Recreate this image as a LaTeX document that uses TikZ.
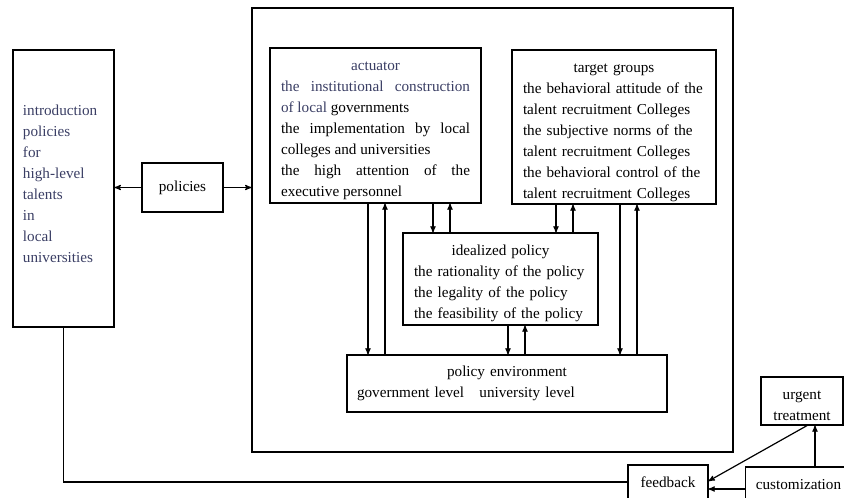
\documentclass[tikz,border=0pt]{standalone}
\usepackage{fontspec}
\setmainfont{Liberation Serif}
\usepackage{xcolor}
\usetikzlibrary{arrows,positioning}
\definecolor{slate}{RGB}{58,62,100}

\begin{document}
\begin{tikzpicture}[x=1pt, y=-1pt, line width=1.2pt, >=stealth',
    font=\fontsize{15.2}{21}\selectfont,
    box/.style={draw, inner xsep=10pt, inner ysep=0pt}]
\useasboundingbox (0,0) rectangle (844,498);
\clip (0,0) rectangle (844,498);

\node[box, minimum width=101pt, minimum height=277pt, text width=81pt, align=left, text=slate] (intro) at (63.5, 188.5) {introduction\\policies\\for\\high-level\\talents\\in\\local\\universities\rule[-9pt]{0pt}{0pt}};
\node[box, minimum width=81pt, minimum height=49pt] (pol) at (182.5, 187.5) {policies};
\node[draw, minimum width=481pt, minimum height=444pt] (sys) at (492.5, 230) {};

\node[box, inner xsep=11pt, minimum width=211pt, minimum height=155pt, text width=189pt, align=justify] (act) at (375.5, 125.5) {{\centering\color{slate}\rule{0pt}{20pt}actuator\par}{\color{slate}the institutional construction\linebreak of local} governments\newline the implementation by local\linebreak colleges and universities\newline the high attention of the\linebreak executive personnel};
\node[box, inner xsep=11pt, minimum width=204pt, minimum height=154pt, text width=182pt, align=left] (tgt) at (614, 127) {{\centering\rule{0pt}{20pt}target groups\par}the behavioral attitude of the\\talent recruitment Colleges\\the subjective norms of the\\talent recruitment Colleges\\the behavioral control of the\\talent recruitment Colleges};
\node[box, inner xsep=11pt, minimum width=195pt, minimum height=92pt, text width=173pt, align=left] (ideal) at (500.5, 279) {{\centering\rule{0pt}{20pt}idealized policy\par}the rationality of the policy\\the legality of the policy\\the feasibility of the policy};
\node[box, minimum width=320pt, minimum height=57pt, text width=300pt, align=left] (env) at (507, 383.5) {{\centering policy environment\par}government level\quad university level};

\node[box, inner xsep=2pt, minimum width=82pt, minimum height=48pt, align=center] (urg) at (802, 401) {\rule{0pt}{19pt}urgent\\treatment};
\node[box, minimum width=80pt, minimum height=34pt] (fb) at (668, 482) {feedback};
\node[box, minimum width=105pt, minimum height=35pt] (cust) at (798.5, 484.5) {customization};

\draw
(pol.west) edge[->] (pol.west -| intro.east)
(pol.east) edge[->] (pol.east -| sys.west)
(433,0 |- act.south) edge[->] (433,0 |- ideal.north)
(450,0 |- ideal.north) edge[->] (450,0 |- act.south)
(556,0 |- tgt.south) edge[->] (556,0 |- ideal.north)
(573,0 |- ideal.north) edge[->] (573,0 |- tgt.south)
(368,0 |- act.south) edge[->] (368,0 |- env.north)
(385,0 |- env.north) edge[->] (385,0 |- act.south)
(620,0 |- tgt.south) edge[->] (620,0 |- env.north)
(637,0 |- env.north) edge[->] (637,0 |- tgt.south)
(508,0 |- ideal.south) edge[->] (508,0 |- env.north)
(525,0 |- env.north) edge[->] (525,0 |- ideal.south)
([xshift=5pt]urg.south) edge[->] ([yshift=1pt]fb.east)
([yshift=-4.5pt]cust.west) edge[->] ([yshift=-4.5pt]cust.west -| fb.east)
(815,0 |- cust.north) edge[->] (815,0 |- urg.south);
\draw (intro.south) |- (fb.west);
\end{tikzpicture}
\end{document}
